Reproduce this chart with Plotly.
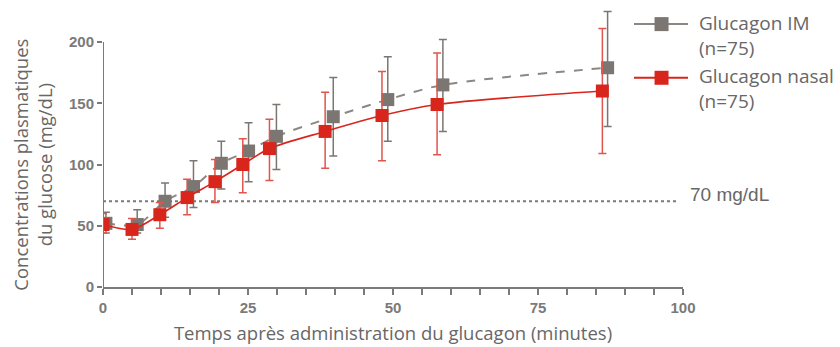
import plotly.graph_objects as go

# Sampling times (minutes), slightly offset per group
time_im = [0.5, 5.9, 10.7, 15.6, 20.4, 25.1, 29.9, 39.7, 49.1, 58.6, 87.0]
time_nasal = [0.0, 5.0, 9.8, 14.5, 19.3, 24.1, 28.7, 38.3, 48.1, 57.6, 86.1]

# Mean plasma glucose (mg/dL) and error bar bounds
glucose_im = [52, 51, 70, 82, 101, 111, 123, 139, 153, 165, 179]
upper_im = [61, 63, 85, 103, 119, 134, 149, 171, 188, 202, 225]
lower_im = [44, 44, 57, 65, 80, 86, 96, 107, 119, 127, 131]

glucose_nasal = [51, 47, 59, 73, 86, 100, 113, 127, 140, 149, 160]
upper_nasal = [60, 56, 69, 88, 104, 121, 137, 159, 176, 191, 211]
lower_nasal = [44, 39, 48, 59, 69, 77, 87, 97, 103, 108, 109]

threshold = 70
threshold_label = "70 mg/dL"
y_ticks = [0, 50, 100, 150, 200]
x_ticks = [0, 25, 50, 75, 100]
legend_im = "Glucagon IM<br>(n=75)"
legend_nasal = "Glucagon nasal<br>(n=75)"
x_title = "Temps après administration du glucagon (minutes)"
y_title = "Concentrations plasmatiques<br>du glucose (mg/dL)"

GRAY = "#7b7672"
GRAY_LINE = "#8c8782"
RED = "#d8261c"
RED_BAR = "#e0554d"
TEXT = "#676767"
TICK = "#7a7a7a"
TITLE_FONT = "Open Sans"

fig = go.Figure()

fig.add_trace(go.Scatter(
    x=time_im, y=glucose_im, mode="lines+markers",
    line=dict(color=GRAY_LINE, width=2, dash="dash", shape="spline", smoothing=0.8),
    marker=dict(symbol="square", size=13, color=GRAY),
    error_y=dict(type="data", symmetric=False,
                 array=[u - m for u, m in zip(upper_im, glucose_im)],
                 arrayminus=[m - l for m, l in zip(glucose_im, lower_im)],
                 color=GRAY, thickness=1.5, width=4),
    showlegend=False,
))

fig.add_trace(go.Scatter(
    x=time_nasal, y=glucose_nasal, mode="lines+markers",
    line=dict(color=RED, width=1.6, shape="spline", smoothing=0.8),
    marker=dict(symbol="square", size=13, color=RED),
    error_y=dict(type="data", symmetric=False,
                 array=[u - m for u, m in zip(upper_nasal, glucose_nasal)],
                 arrayminus=[m - l for m, l in zip(glucose_nasal, lower_nasal)],
                 color=RED_BAR, thickness=1.5, width=4),
    showlegend=False,
))

shapes = [
    # hypoglycaemia threshold
    dict(type="line", xref="x", yref="y", x0=0, x1=99, y0=threshold, y1=threshold,
         line=dict(color="#7a7a7a", width=2, dash="dot"), layer="below"),
    # visible y axis line (0..200)
    dict(type="line", xref="x", yref="y", x0=0, x1=0, y0=0, y1=max(y_ticks),
         line=dict(color=TICK, width=2)),
]

# legend glyphs
legend_rows = [(0.916, GRAY, GRAY_LINE), (0.729, RED, RED)]
for ypos, mcol, lcol in legend_rows:
    shapes.append(dict(type="line", xref="paper", yref="paper",
                       x0=0.9155, x1=1.0086, y0=ypos, y1=ypos,
                       line=dict(color=lcol, width=2)))
    shapes.append(dict(type="rect", xref="paper", yref="paper",
                       xsizemode="pixel", ysizemode="pixel",
                       xanchor=0.963, yanchor=ypos, x0=-7, x1=7, y0=-7, y1=7,
                       fillcolor=mcol, line=dict(width=0)))

annotations = [
    dict(text=legend_im, xref="paper", yref="paper", x=1.024, y=0.876,
         xanchor="left", yanchor="middle", align="left", showarrow=False,
         font=dict(family=TITLE_FONT, size=19, color=TEXT)),
    dict(text=legend_nasal, xref="paper", yref="paper", x=1.024, y=0.692,
         xanchor="left", yanchor="middle", align="left", showarrow=False,
         font=dict(family=TITLE_FONT, size=19, color=TEXT)),
    dict(text=threshold_label, xref="paper", yref="y", x=1.0086, y=threshold,
         xanchor="left", yanchor="middle", yshift=7, showarrow=False,
         font=dict(family="Liberation Sans, Arial", size=19, color=TEXT)),
    dict(text=y_title, xref="paper", yref="y", x=-0.122, y=100,
         xanchor="center", yanchor="middle", textangle=-90, showarrow=False,
         font=dict(family=TITLE_FONT, size=18.5, color=TEXT)),
]

fig.update_layout(
    width=840, height=347,
    margin=dict(l=103, r=157, t=0, b=60),
    paper_bgcolor="white", plot_bgcolor="white",
    shapes=shapes, annotations=annotations,
    xaxis=dict(
        range=[0, 100], tickvals=x_ticks, ticks="outside", ticklen=6,
        tickwidth=1.5, tickcolor=TICK, showline=True, linecolor=TICK, linewidth=2,
        showgrid=False, zeroline=False,
        minor=dict(dtick=5, ticks="outside", ticklen=6, tickwidth=1.5, tickcolor=TICK),
        tickfont=dict(family="Liberation Sans, Arial", size=15, color=TICK, weight="bold"),
        title=dict(text=x_title, standoff=12,
                   font=dict(family=TITLE_FONT, size=18.5, color=TEXT)),
    ),
    yaxis=dict(
        range=[0, 234.3], tickvals=y_ticks, ticks="outside", ticklen=5,
        tickwidth=1.5, tickcolor=TICK, showline=False, showgrid=False, zeroline=False,
        tickfont=dict(family="Liberation Sans, Arial", size=15, color=TICK, weight="bold"),
    ),
)

fig.write_html("out.html")
